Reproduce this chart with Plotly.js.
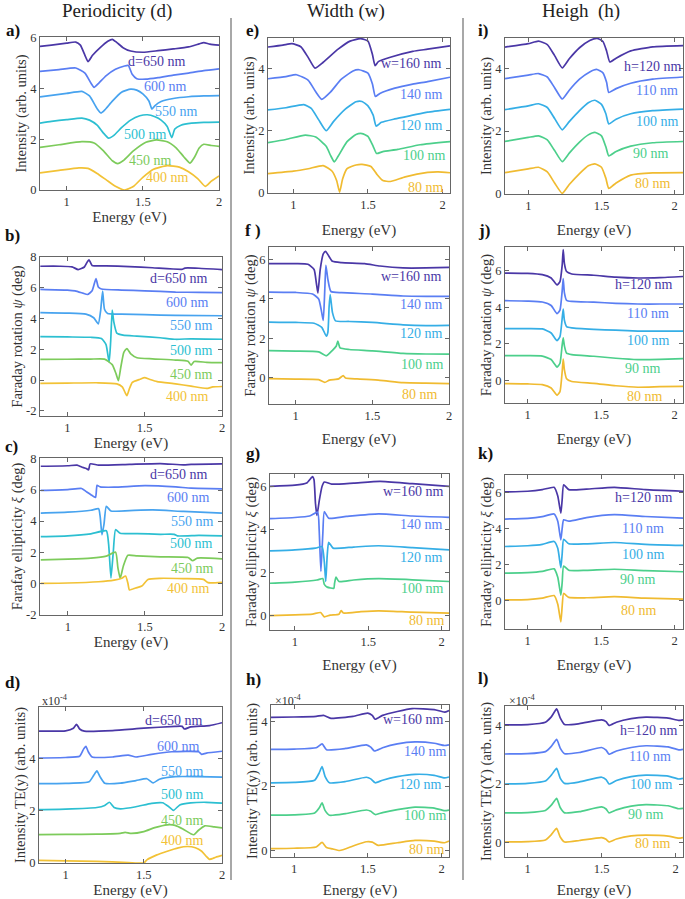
<!DOCTYPE html>
<html><head><meta charset="utf-8">
<script src="https://cdn.plot.ly/plotly-3.0.1.min.js"></script>
<style>html,body{margin:0;padding:0;background:#fff;}#chart{width:685px;height:899px;}</style>
</head><body><div id="chart"></div>
<script>
// ---------------- DATA ----------------
const energyTicks = [1, 1.5, 2];
const periodLabels = ['d=650 nm','600 nm','550 nm','500 nm','450 nm','400 nm'];
const widthLabels  = ['w=160 nm','140 nm','120 nm','100 nm','80 nm'];
const heightLabels = ['h=120 nm','110 nm','100 nm','90 nm','80 nm'];

// a) Intensity vs energy, periodicity
const aE = [
 [0.825,0.9,1.0,1.06,1.09,1.12,1.14,1.17,1.22,1.27,1.30,1.33,1.37,1.42,1.5,1.6,1.7,1.8,1.87,1.9,1.94,2.0],
 [0.825,0.95,1.06,1.12,1.16,1.18,1.21,1.26,1.32,1.38,1.405,1.43,1.46,1.52,1.6,1.7,1.8,1.9,2.0],
 [0.825,0.9,1.0,1.1,1.15,1.2,1.225,1.25,1.3,1.36,1.42,1.46,1.5,1.54,1.56,1.58,1.62,1.7,1.8,1.9,2.0],
 [0.825,0.9,1.0,1.1,1.15,1.2,1.24,1.275,1.31,1.36,1.42,1.48,1.53,1.58,1.62,1.66,1.69,1.71,1.75,1.82,1.9,2.0],
 [0.825,0.95,1.1,1.18,1.24,1.3,1.335,1.37,1.44,1.52,1.59,1.66,1.72,1.77,1.81,1.84,1.87,1.9,1.95,2.0],
 [0.825,0.95,1.08,1.14,1.2,1.26,1.32,1.38,1.44,1.5,1.57,1.66,1.74,1.8,1.86,1.91,1.95,2.0]];
const aV = [
 [5.65,5.7,5.78,5.82,5.7,5.3,5.05,5.3,5.6,5.85,5.93,5.8,5.6,5.47,5.42,5.48,5.55,5.63,5.75,5.8,5.74,5.7],
 [4.67,4.74,4.8,4.6,4.2,4.04,4.2,4.5,4.75,4.88,4.9,4.55,4.38,4.36,4.42,4.52,4.6,4.7,4.77],
 [3.66,3.72,3.8,3.88,3.7,3.2,3.03,3.15,3.5,3.85,3.97,3.93,3.78,3.5,3.18,3.32,3.48,3.6,3.67,3.7,3.71],
 [2.63,2.7,2.77,2.83,2.75,2.55,2.25,2.04,2.15,2.45,2.75,2.92,2.96,2.88,2.75,2.5,2.06,2.4,2.55,2.63,2.66,2.67],
 [1.68,1.78,1.9,1.85,1.55,1.15,1.04,1.15,1.55,1.88,1.97,1.9,1.65,1.3,1.06,1.3,1.65,1.8,1.75,1.72],
 [0.67,0.77,0.87,0.85,0.65,0.4,0.15,0.0,0.15,0.5,0.82,0.96,0.9,0.72,0.45,0.14,0.35,0.55]];

// b) Faraday rotation, periodicity
const bE = [
 [0.825,0.95,1.03,1.07,1.11,1.13,1.14,1.16,1.25,1.4,1.55,1.74,1.76,1.85,2.0],
 [0.825,1.0,1.05,1.1,1.13,1.16,1.185,1.2,1.22,1.35,1.5,1.7,1.85,2.0],
 [0.825,1.0,1.12,1.17,1.2,1.215,1.228,1.24,1.26,1.35,1.5,1.7,2.0],
 [0.825,1.0,1.15,1.22,1.25,1.27,1.28,1.29,1.3,1.32,1.36,1.45,1.6,1.7,1.8,2.0],
 [0.825,1.0,1.15,1.24,1.29,1.315,1.33,1.345,1.365,1.385,1.41,1.45,1.55,1.7,1.78,1.8,1.82,1.9,2.0],
 [0.825,1.0,1.2,1.32,1.355,1.375,1.385,1.4,1.42,1.47,1.5,1.53,1.58,1.7,1.8,1.9,1.94,2.0]];
const bV = [
 [7.4,7.4,7.36,7.18,7.35,7.7,7.82,7.45,7.42,7.38,7.3,7.2,7.28,7.27,7.18],
 [5.9,5.85,5.8,5.65,5.56,5.8,6.6,6.05,5.92,5.85,5.8,5.72,5.7,5.68],
 [4.38,4.35,4.28,4.05,3.65,4.5,5.78,4.6,4.32,4.28,4.25,4.2,4.18],
 [2.82,2.8,2.78,2.7,2.3,1.15,2.5,4.55,3.8,3.05,2.92,2.85,2.75,2.65,2.68,2.65],
 [1.34,1.35,1.36,1.36,1.0,0.4,-0.04,0.8,1.8,2.05,1.7,1.45,1.38,1.3,1.22,0.97,1.2,1.15,1.13],
 [-0.22,-0.2,-0.18,-0.25,-0.45,-0.85,-1.02,-0.6,-0.15,0.05,0.15,0.05,-0.1,-0.25,-0.4,-0.55,-0.45,-0.42]];

// c) Faraday ellipticity, periodicity
const cE = [
 [0.825,1.0,1.06,1.09,1.12,1.135,1.145,1.2,1.4,1.6,1.75,1.8,2.0],
 [0.825,1.0,1.09,1.12,1.15,1.18,1.19,1.21,1.3,1.5,1.7,1.8,2.0],
 [0.825,1.0,1.15,1.2,1.21,1.222,1.235,1.25,1.28,1.4,1.55,1.75,2.0],
 [0.825,1.0,1.15,1.25,1.265,1.28,1.295,1.31,1.34,1.45,1.6,1.69,1.71,1.85,2.0],
 [0.825,1.0,1.15,1.25,1.31,1.325,1.34,1.36,1.39,1.45,1.6,1.78,1.81,1.84,2.0],
 [0.825,1.0,1.2,1.3,1.35,1.375,1.39,1.4,1.44,1.48,1.52,1.6,1.75,1.88,1.91,2.0]];
const cV = [
 [7.53,7.56,7.6,7.48,7.38,7.3,7.68,7.6,7.65,7.7,7.62,7.65,7.68],
 [5.98,6.03,6.1,5.9,5.7,5.52,6.3,6.2,6.18,6.28,6.2,6.12,6.08],
 [4.52,4.58,4.7,4.8,4.3,3.12,3.8,4.95,4.65,4.68,4.72,4.62,4.52],
 [3.0,3.05,3.18,3.38,2.5,0.35,2.0,3.45,3.22,3.2,3.15,3.15,3.05,3.08,3.05],
 [1.5,1.55,1.62,1.75,2.0,1.0,0.32,1.1,1.8,1.76,1.7,1.66,1.45,1.62,1.57],
 [0.0,0.02,0.1,0.2,0.32,0.47,0.0,-0.43,-0.3,-0.18,0.25,0.32,0.3,0.25,0.04,0.06]];

// d) TE(y) intensity (x 1e-4), periodicity
const dE = [
 [0.825,1.0,1.05,1.07,1.09,1.12,1.3,1.5,1.7,1.745,1.76,1.8,1.92,2.0],
 [0.825,1.0,1.09,1.115,1.13,1.145,1.17,1.3,1.4,1.45,1.55,1.68,1.85,1.87,1.9,2.0],
 [0.825,1.0,1.15,1.18,1.2,1.22,1.25,1.35,1.45,1.52,1.56,1.6,1.7,1.85,2.0],
 [0.825,1.0,1.2,1.25,1.28,1.31,1.35,1.45,1.55,1.62,1.66,1.69,1.73,1.8,1.9,2.0],
 [0.825,1.0,1.2,1.35,1.38,1.42,1.5,1.57,1.65,1.7,1.75,1.8,1.82,1.85,1.89,1.95,2.0],
 [0.825,1.0,1.2,1.4,1.5,1.52,1.58,1.65,1.72,1.78,1.83,1.87,1.9,1.92,1.96,2.0]];
const dV = [
 [5.04,5.05,5.15,5.3,5.12,5.04,5.06,5.15,5.22,5.22,5.12,5.2,5.25,5.36],
 [4.01,4.03,4.08,4.35,4.46,4.25,4.05,4.05,4.12,4.05,4.15,4.25,4.25,4.15,4.2,4.27],
 [3.03,3.04,3.1,3.35,3.52,3.3,3.05,3.05,3.15,3.22,3.06,3.2,3.3,3.3,3.28],
 [2.04,2.06,2.12,2.2,2.32,2.12,2.07,2.15,2.28,2.3,2.15,2.01,2.22,2.3,2.32,2.29],
 [1.08,1.09,1.1,1.13,1.17,1.13,1.2,1.35,1.46,1.44,1.3,1.12,1.08,1.25,1.42,1.38,1.34],
 [0.1,0.08,0.06,0.02,0.0,0.12,0.3,0.45,0.58,0.63,0.58,0.45,0.25,0.14,0.22,0.29]];

// e) Intensity, width
const eE = [
 [0.83,0.93,0.99,1.05,1.1,1.145,1.2,1.3,1.38,1.45,1.5,1.53,1.548,1.57,1.65,1.8,1.9,2.05],
 [0.83,0.95,1.02,1.1,1.15,1.19,1.25,1.32,1.4,1.44,1.5,1.53,1.55,1.58,1.68,1.8,1.9,2.05],
 [0.83,0.95,1.07,1.12,1.17,1.22,1.27,1.35,1.42,1.46,1.5,1.535,1.555,1.59,1.68,1.8,1.9,2.05],
 [0.83,0.95,1.08,1.15,1.22,1.25,1.275,1.3,1.36,1.42,1.46,1.5,1.535,1.558,1.6,1.7,1.85,2.05],
 [0.83,1.0,1.1,1.2,1.26,1.29,1.31,1.33,1.36,1.42,1.46,1.52,1.56,1.6,1.65,1.75,1.9,1.97,2.05]];
const eV = [
 [4.69,4.75,4.8,4.7,4.35,4.01,4.2,4.62,4.88,4.96,4.88,4.45,4.09,4.22,4.36,4.55,4.62,4.73],
 [3.67,3.74,3.8,3.62,3.25,3.01,3.25,3.65,3.92,3.96,3.85,3.5,3.1,3.2,3.37,3.5,3.58,3.72],
 [2.67,2.74,2.84,2.72,2.35,2.0,2.3,2.7,2.93,2.94,2.8,2.5,2.15,2.27,2.38,2.5,2.6,2.69],
 [1.62,1.72,1.86,1.8,1.5,1.2,1.0,1.18,1.65,1.88,1.91,1.82,1.5,1.27,1.33,1.4,1.55,1.65],
 [0.62,0.7,0.78,0.88,0.7,0.4,0.03,0.45,0.78,0.9,0.92,0.85,0.6,0.4,0.37,0.52,0.66,0.68,0.65]];

// f) Faraday rotation, width
const fE = [
 [0.826,1.0,1.08,1.12,1.135,1.145,1.16,1.18,1.195,1.215,1.24,1.3,1.45,1.55,1.7,1.85,2.0],
 [0.826,1.0,1.11,1.15,1.17,1.18,1.19,1.197,1.21,1.23,1.3,1.5,1.7,1.85,2.0],
 [0.826,1.0,1.12,1.17,1.2,1.21,1.218,1.225,1.24,1.26,1.35,1.5,1.7,1.85,2.0],
 [0.826,1.0,1.15,1.2,1.24,1.265,1.275,1.29,1.35,1.5,1.7,1.85,2.0],
 [0.826,1.0,1.15,1.19,1.22,1.28,1.31,1.325,1.4,1.55,1.7,1.85,2.0]];
const fV = [
 [5.8,5.8,5.77,5.5,4.8,4.3,5.5,6.3,6.43,6.2,5.92,5.85,5.8,5.68,5.58,5.58,5.61],
 [4.35,4.33,4.25,4.0,3.3,2.9,4.5,5.72,5.0,4.38,4.32,4.25,4.15,4.13,4.13],
 [2.82,2.8,2.76,2.55,2.1,2.3,3.6,4.22,3.3,2.88,2.85,2.8,2.68,2.64,2.65],
 [1.36,1.34,1.3,1.1,1.38,1.6,1.85,1.5,1.42,1.35,1.22,1.19,1.18],
 [-0.07,-0.09,-0.12,-0.26,-0.14,-0.08,0.09,-0.03,-0.08,-0.15,-0.27,-0.3,-0.32]];

// g) Faraday ellipticity, width
const gE = [
 [0.83,1.0,1.08,1.12,1.13,1.14,1.15,1.165,1.185,1.2,1.25,1.4,1.58,1.8,2.05],
 [0.83,1.0,1.1,1.155,1.165,1.177,1.19,1.2,1.23,1.35,1.57,1.8,2.05],
 [0.83,1.0,1.14,1.185,1.2,1.21,1.22,1.23,1.26,1.4,1.57,1.8,2.05],
 [0.83,1.0,1.15,1.19,1.2,1.22,1.265,1.27,1.28,1.3,1.4,1.57,1.8,2.05],
 [0.83,1.0,1.12,1.175,1.2,1.24,1.3,1.315,1.33,1.45,1.57,1.8,2.05]];
const gV = [
 [6.0,6.05,6.15,6.45,6.3,5.2,4.65,5.3,6.0,6.2,6.1,6.15,6.23,6.12,6.0],
 [4.5,4.55,4.62,4.8,4.0,2.05,3.8,4.82,4.52,4.6,4.72,4.62,4.56],
 [3.0,3.05,3.13,3.2,2.5,1.58,2.8,3.4,3.13,3.18,3.24,3.15,3.05],
 [1.5,1.55,1.65,1.72,1.45,1.32,1.27,1.5,1.78,1.58,1.65,1.71,1.66,1.58],
 [0.0,0.03,0.07,0.14,-0.06,0.02,0.06,0.23,0.12,0.18,0.22,0.16,0.11]];

// h) TE(y) intensity (x 1e-4), width
const hE = [
 [0.844,1.0,1.15,1.2,1.25,1.4,1.5,1.53,1.55,1.6,1.7,1.8,1.95,2.02,2.05],
 [0.844,1.0,1.15,1.19,1.22,1.35,1.49,1.52,1.545,1.6,1.7,1.82,1.95,2.02,2.05],
 [0.844,1.0,1.14,1.17,1.19,1.21,1.24,1.35,1.49,1.52,1.55,1.6,1.7,1.82,1.95,2.02,2.05],
 [0.844,1.0,1.14,1.17,1.19,1.21,1.24,1.35,1.49,1.52,1.55,1.6,1.7,1.82,1.95,2.02,2.05],
 [0.844,1.0,1.15,1.19,1.22,1.26,1.31,1.4,1.49,1.53,1.57,1.7,1.82,1.95,2.02,2.05]];
const hV = [
 [4.12,4.13,4.15,4.18,4.09,4.15,4.25,4.18,4.06,4.18,4.3,4.39,4.36,4.28,4.33],
 [3.13,3.14,3.18,3.3,3.12,3.16,3.27,3.2,3.08,3.18,3.3,3.36,3.32,3.25,3.27],
 [2.1,2.11,2.18,2.4,2.6,2.3,2.1,2.14,2.27,2.22,2.1,2.18,2.29,2.36,2.33,2.25,2.28],
 [1.1,1.11,1.17,1.32,1.48,1.25,1.1,1.15,1.26,1.22,1.12,1.18,1.27,1.35,1.32,1.24,1.26],
 [0.07,0.08,0.12,0.26,0.1,0.06,0.01,0.15,0.28,0.27,0.17,0.25,0.32,0.3,0.25,0.3]];

// i) Intensity, height
const iE = [
 [0.841,1.0,1.07,1.13,1.18,1.232,1.28,1.35,1.42,1.47,1.51,1.535,1.557,1.6,1.7,1.85,2.057],
 [0.841,1.0,1.07,1.13,1.18,1.232,1.28,1.35,1.42,1.466,1.51,1.535,1.55,1.6,1.7,1.85,2.057],
 [0.841,1.0,1.07,1.13,1.18,1.232,1.28,1.35,1.41,1.455,1.5,1.53,1.55,1.6,1.7,1.85,2.057],
 [0.841,1.0,1.07,1.13,1.18,1.232,1.28,1.35,1.41,1.455,1.5,1.53,1.55,1.6,1.7,1.85,2.057],
 [0.841,1.0,1.07,1.13,1.18,1.232,1.28,1.35,1.41,1.455,1.5,1.53,1.55,1.6,1.7,1.85,2.057]];
const iV = [
 [4.67,4.78,4.86,4.75,4.4,4.01,4.3,4.65,4.88,4.95,4.85,4.55,4.2,4.32,4.55,4.68,4.72],
 [3.67,3.78,3.83,3.72,3.38,3.02,3.3,3.65,3.88,3.96,3.85,3.55,3.23,3.35,3.52,3.65,3.72],
 [2.68,2.8,2.87,2.75,2.4,2.04,2.3,2.65,2.9,2.98,2.85,2.55,2.23,2.38,2.55,2.65,2.7],
 [1.67,1.8,1.85,1.72,1.38,1.03,1.3,1.65,1.88,1.96,1.85,1.5,1.21,1.35,1.52,1.63,1.67],
 [0.68,0.8,0.85,0.7,0.35,0.02,0.3,0.65,0.9,0.96,0.85,0.5,0.18,0.35,0.6,0.67,0.68]];

// j) Faraday rotation, height
const jEnergy = [0.846,1.0,1.1,1.16,1.2,1.22,1.235,1.242,1.25,1.265,1.3,1.45,1.6,1.75,1.9,2.057];
const jV = [
 [5.87,5.85,5.78,5.6,5.22,5.4,6.3,7.15,6.4,5.95,5.82,5.75,5.65,5.6,5.62,5.68],
 [4.36,4.34,4.29,4.1,3.65,3.85,4.9,5.56,4.8,4.38,4.32,4.28,4.22,4.18,4.18,4.18],
 [2.84,2.84,2.82,2.6,2.18,2.4,3.4,3.9,3.3,2.95,2.88,2.8,2.75,2.7,2.7,2.7],
 [1.36,1.36,1.34,1.15,0.74,0.95,1.95,2.33,1.9,1.5,1.42,1.33,1.22,1.15,1.16,1.2],
 [-0.16,-0.18,-0.22,-0.4,-0.8,-0.6,0.5,1.18,0.6,0.1,-0.05,-0.15,-0.28,-0.36,-0.33,-0.31]];

// k) Faraday ellipticity, height
const kEnergy = [0.846,1.0,1.1,1.18,1.205,1.226,1.235,1.245,1.28,1.4,1.59,1.8,2.057];
const kV = [
 [6.02,6.06,6.15,6.28,5.8,4.85,5.6,6.42,6.15,6.18,6.28,6.15,6.06],
 [4.52,4.56,4.65,4.8,4.4,3.37,4.0,4.48,4.4,4.6,4.76,4.66,4.57],
 [3.0,3.04,3.12,3.28,2.9,1.83,2.6,3.4,3.15,3.15,3.22,3.12,3.06],
 [1.52,1.55,1.62,1.76,1.3,0.31,1.0,1.92,1.68,1.68,1.74,1.66,1.6],
 [0.04,0.06,0.14,0.28,-0.2,-1.17,-0.3,0.4,0.18,0.16,0.22,0.14,0.09]];

// l) TE(Y) intensity (x 1e-4), height
const lEnergy = [0.847,1.0,1.12,1.16,1.196,1.22,1.25,1.35,1.5,1.53,1.55,1.6,1.7,1.8,1.95,2.02,2.05];
const lV = [
 [4.01,4.02,4.1,4.28,4.55,4.25,4.02,4.05,4.18,4.12,3.99,4.1,4.22,4.27,4.24,4.16,4.18],
 [3.02,3.03,3.1,3.28,3.52,3.22,3.03,3.07,3.24,3.15,3.01,3.12,3.24,3.3,3.26,3.16,3.18],
 [2.0,2.02,2.1,2.3,2.53,2.2,2.02,2.07,2.23,2.15,2.0,2.12,2.25,2.3,2.27,2.17,2.19],
 [1.02,1.03,1.1,1.28,1.51,1.2,1.02,1.06,1.22,1.15,1.02,1.12,1.25,1.3,1.26,1.16,1.17],
 [0.03,0.04,0.1,0.28,0.49,0.2,0.03,0.08,0.18,0.12,0.03,0.13,0.24,0.26,0.23,0.16,0.18]];

// ---------------- STYLE / LAYOUT ----------------
const W = 685, H = 899;
const FONT = 'Liberation Serif, Times New Roman, serif';
const COL6 = ['#4a37a6','#5a7ef3','#47a3ef','#2cbfd1','#7dcb5b','#f2c236'];
const COL5 = ['#4a37a6','#5a7ef3','#35aee6','#4ccf8b','#f0bb31'];
const rep = (a, n) => Array.from({length: n}, () => a);

const T_INT = 'Intensity (arb. units)';
const T_ROT = 'Faraday rotation <i>ψ</i> (deg)';
const T_ELL = 'Faraday ellipticity <i>ξ</i> (deg)';

const panels = [
 {E:aE, V:aV, names:periodLabels, col:COL6, box:[40,219,37,190], xr:[0.825,2], yr:[0,6.02], yt:[0,2,4,6], yTitle:T_INT, xso:2,
  lab:[[1.59,5.06],[1.65,4.08],[1.72,3.09],[1.515,2.18],[1.55,1.17],[1.66,0.51]], letter:'a)', lp:[4,30]},
 {E:bE, V:bV, names:periodLabels, col:COL6, box:[40,222,257,416], xr:[0.823,2], yr:[-2.34,8.0], yt:[-2,0,2,4,6,8], yTitle:T_ROT, xso:0,
  lab:[[1.72,6.6],[1.78,5.04],[1.8,3.53],[1.8,1.95],[1.8,0.39],[1.78,-1.08]], letter:'b)', lp:[3,235]},
 {E:cE, V:cV, names:periodLabels, col:COL6, box:[40,222,458,615], xr:[0.82,2], yr:[-2.04,8.06], yt:[-2,0,2,4,6,8], yTitle:'Farafay ellipticity <i>ξ</i> (deg)', xso:1,
  lab:[[1.72,7.0],[1.78,5.53],[1.81,3.98],[1.8,2.58],[1.81,0.97],[1.78,-0.32]], letter:'c)', lp:[3,446]},
 {E:dE, V:dV, names:periodLabels, col:COL6, box:[39,222,707,863], xr:[0.83,2], yr:[0,5.96], yt:[0,2,4], yTitle:'Intensity TE(y) (arb. units)', xso:1,
  lab:[[1.69,5.45],[1.725,4.46],[1.75,3.48],[1.75,2.62],[1.75,1.63],[1.75,0.87]], letter:'d)', lp:[3,682], expo:'x10<sup>-4</sup>', ep:[40,700]},
 {E:eE, V:eV, names:widthLabels, col:COL5, box:[268,450,38,193], xr:[0.83,2.05], yr:[0,4.98], yt:[0,2,4], yTitle:T_INT, xso:13,
  lab:[[1.79,4.17],[1.86,3.18],[1.86,2.18],[1.88,1.22],[1.89,0.19]], letter:'e)', lp:[244,31]},
 {E:fE, V:fV, names:widthLabels, col:COL5, box:[269,449,247,404], xr:[0.826,2.0], yr:[-1.36,6.65], yt:[0,2,4,6], yTitle:T_ROT, xso:11,
  lab:[[1.757,5.15],[1.82,3.71],[1.82,2.26],[1.83,0.68],[1.81,-0.88]], letter:'f )', lp:[243,230]},
 {E:gE, V:gV, names:widthLabels, col:COL5, box:[270,449,474,630], xr:[0.83,2.05], yr:[-0.67,6.57], yt:[0,2,4,6], yTitle:T_ELL, xso:11,
  lab:[[1.805,5.74],[1.86,4.22],[1.86,2.7],[1.87,1.24],[1.9,-0.25]], letter:'g)', lp:[244,453]},
 {E:hE, V:hV, names:widthLabels, col:COL5, box:[271,449,705,857], xr:[0.844,2.05], yr:[-0.19,4.5], yt:[0,2,4], yTitle:'Intensity TE(y) (arb. units)', xso:9,
  lab:[[1.81,4.04],[1.89,3.06],[1.86,2.06],[1.89,1.08],[1.9,0.04]], letter:'h)', lp:[244,679], expo:'×10<sup>-4</sup>', ep:[273,700]},
 {E:iE, V:iV, names:heightLabels, col:COL5, box:[505,683,38,194], xr:[0.841,2.057], yr:[0,4.96], yt:[0,2,4], yTitle:T_INT, xso:12,
  lab:[[1.85,4.04],[1.88,3.3],[1.88,2.31],[1.84,1.3],[1.85,0.32]], letter:'i)', lp:[476,31]},
 {E:rep(jEnergy,5), V:jV, names:heightLabels, col:COL5, box:[505,683,247,403], xr:[0.846,2.057], yr:[-1.22,7.29], yt:[0,2,4,6], yTitle:T_ROT, xso:12,
  lab:[[1.785,5.24],[1.82,3.64],[1.82,2.18],[1.785,0.65],[1.8,-0.85]], letter:'j)', lp:[476,230]},
 {E:rep(kEnergy,5), V:kV, names:heightLabels, col:COL5, box:[505,683,475,629], xr:[0.846,2.057], yr:[-1.57,6.96], yt:[0,2,4,6], yTitle:T_ELL, xso:12,
  lab:[[1.785,5.69],[1.785,4.02],[1.785,2.54],[1.75,1.15],[1.76,-0.52]], letter:'k)', lp:[476,453]},
 {E:rep(lEnergy,5), V:lV, names:heightLabels, col:COL5, box:[505,683,706,857], xr:[0.847,2.05], yr:[-0.48,4.65], yt:[0,2,4], yTitle:'Intensity TE(Y) (arb. units)', xso:9,
  lab:[[1.815,3.82],[1.83,2.93],[1.84,2.0],[1.8,0.98],[1.85,-0.02]], letter:'l)', lp:[476,678], expo:'×10<sup>-4</sup>', ep:[507,700]}
];

const data = [];
const layout = {
  width: W, height: H, margin: {l:0, r:0, t:0, b:0},
  paper_bgcolor: '#fff', plot_bgcolor: '#fff', showlegend: false,
  font: {family: FONT, color: '#333'},
  annotations: [], shapes: []
};

panels.forEach((p, idx) => {
  const n = idx + 1;
  const xa = 'x' + (n === 1 ? '' : n), ya = 'y' + (n === 1 ? '' : n);
  const xk = 'xaxis' + (n === 1 ? '' : n), yk = 'yaxis' + (n === 1 ? '' : n);
  const [x0, x1, y0, y1] = p.box;
  const axCommon = {showgrid:false, zeroline:false, showline:true, linecolor:'#666', linewidth:1,
    mirror:'ticks', ticks:'inside', ticklen:4, tickcolor:'#666', tickfont:{family:FONT, size:12.5, color:'#333'}};
  layout[xk] = Object.assign({}, axCommon, {domain:[x0/W, x1/W], anchor:ya, range:p.xr,
    tickvals:energyTicks, ticktext:['1','1.5','2'],
    title:{text:'Energy (eV)', font:{family:FONT, size:15, color:'#333'}, standoff:p.xso}});
  layout[yk] = Object.assign({}, axCommon, {domain:[1 - y1/H, 1 - y0/H], anchor:xa, range:p.yr,
    tickvals:p.yt, ticktext:p.yt.map(String),
    title:{text:p.yTitle, font:{family:FONT, size:14.5, color:'#333'}, standoff:0}});
  p.V.forEach((v, k) => {
    data.push({type:'scatter', mode:'lines', x:p.E[k], y:v, xaxis:xa, yaxis:ya, name:p.names[k],
      line:{color:p.col[k], width:1.7, shape:'spline', smoothing:0.5}, hoverinfo:'skip'});
    layout.annotations.push({xref:xa, yref:ya, x:p.lab[k][0], y:p.lab[k][1], text:p.names[k],
      showarrow:false, font:{family:FONT, size:14, color:p.col[k]}, xanchor:'center', yanchor:'middle'});
  });
  layout.annotations.push({xref:'paper', yref:'paper', x:p.lp[0]/W, y:1 - p.lp[1]/H, text:'<b>' + p.letter + '</b>',
    showarrow:false, xanchor:'left', yanchor:'middle', font:{family:FONT, size:17, color:'#111'}});
  if (p.expo) layout.annotations.push({xref:'paper', yref:'paper', x:p.ep[0]/W, y:1 - p.ep[1]/H, text:p.expo,
    showarrow:false, xanchor:'left', yanchor:'middle', font:{family:FONT, size:12, color:'#333'}});
});

[['Periodicity (d)',117],['Width (w)',346],['Heigh  (h)',581]].forEach(([t, x]) => {
  layout.annotations.push({xref:'paper', yref:'paper', x:x/W, y:1 - 11/H, text:t, showarrow:false,
    xanchor:'center', yanchor:'middle', font:{family:FONT, size:19, color:'#222'}});
});
[231, 463].forEach(x => {
  layout.shapes.push({type:'line', xref:'paper', yref:'paper', x0:x/W, x1:x/W, y0:1 - 880/H, y1:1 - 18/H,
    line:{color:'#a8a8a8', width:2}});
});

Plotly.newPlot('chart', data, layout, {staticPlot:true, displayModeBar:false});
</script>
</body></html>
